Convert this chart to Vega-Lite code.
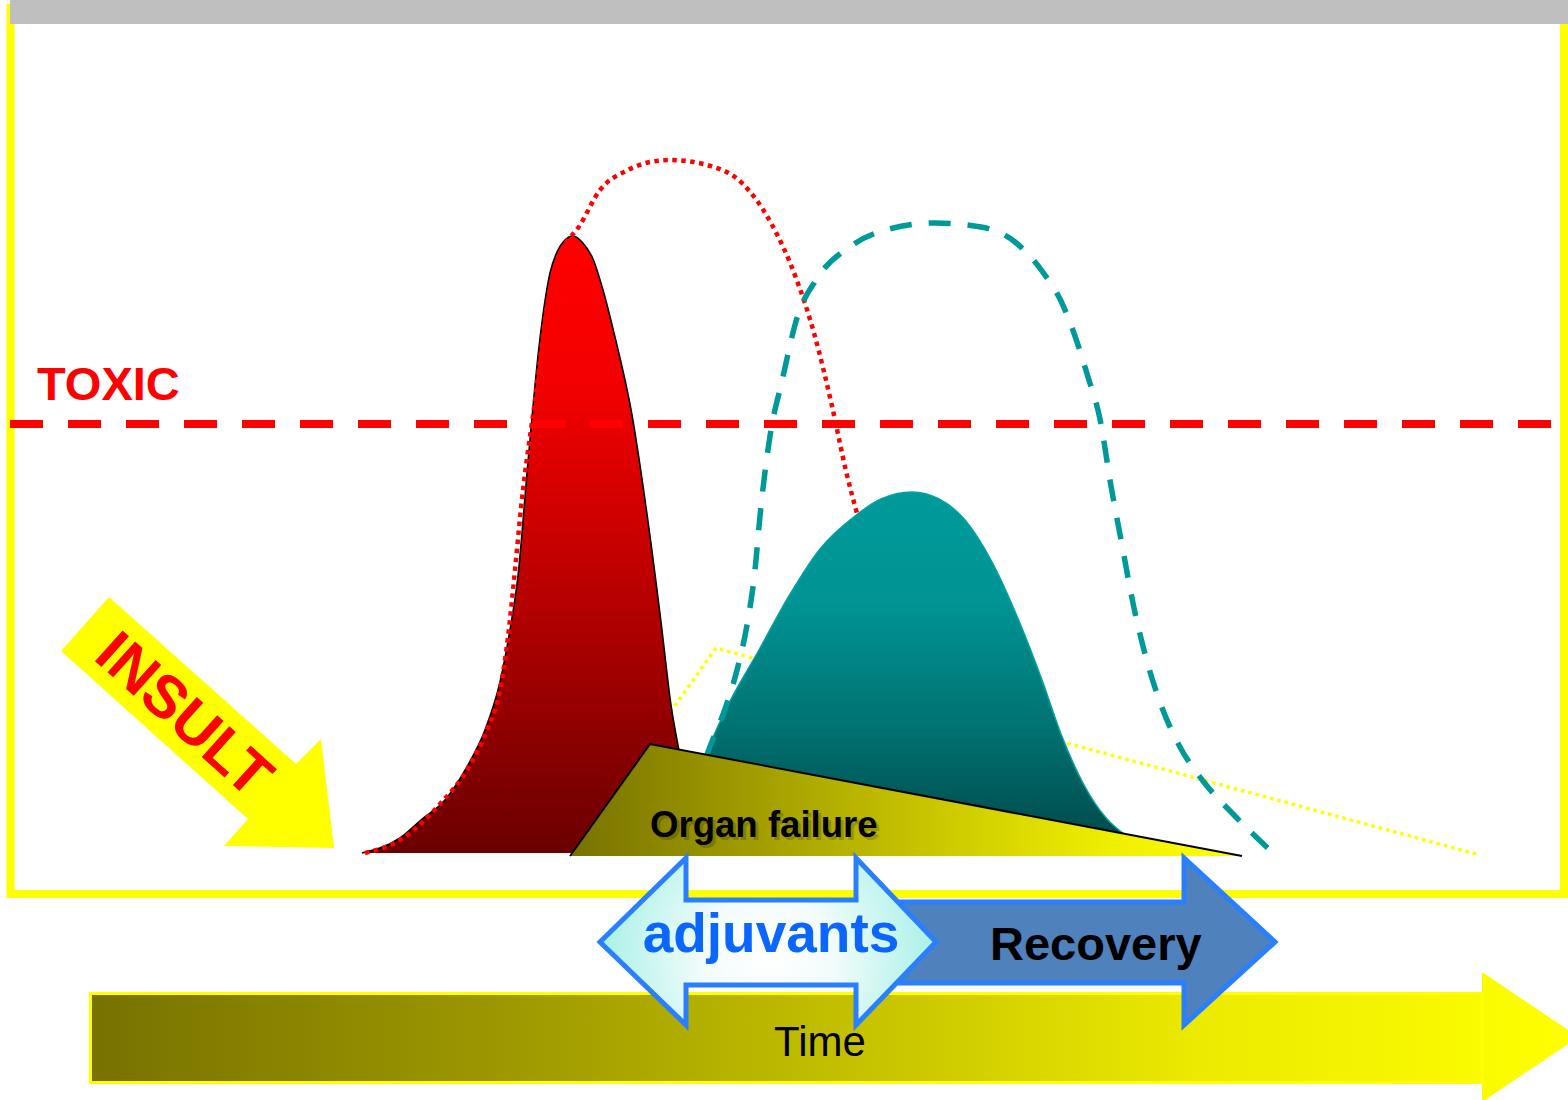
{
  "$schema": "https://vega.github.io/schema/vega-lite/v6.json",
  "width": 1568,
  "height": 1100,
  "autosize": {"type": "fit", "contains": "padding"},
  "padding": 0,
  "background": "white",
  "config": {"view": {"stroke": null}},
  "datasets": {
    "frame": [{"x": 10.5, "x2": 1564, "y": 8, "y2": 894}],
    "topBar": [{"x": 10, "x2": 1568, "y": 0, "y2": 24}],
    "threshold": [{"x": 10, "x2": 1560, "y": 424}],
    "yellowTrace": [{"x": 666, "y": 718}, {"x": 716, "y": 648}, {"x": 1480, "y": 855}],
    "insultPeak": [
      {"x": 362, "y": 853}, {"x": 400, "y": 838}, {"x": 421, "y": 820}, {"x": 445, "y": 800},
      {"x": 468, "y": 765}, {"x": 485, "y": 730}, {"x": 500, "y": 682}, {"x": 510, "y": 630},
      {"x": 518, "y": 576}, {"x": 528, "y": 462}, {"x": 539, "y": 347}, {"x": 550, "y": 273},
      {"x": 558, "y": 250}, {"x": 564, "y": 241}, {"x": 573, "y": 236}, {"x": 582, "y": 242},
      {"x": 593, "y": 259}, {"x": 603, "y": 290}, {"x": 614, "y": 333}, {"x": 632, "y": 415},
      {"x": 646, "y": 507}, {"x": 661, "y": 622}, {"x": 671, "y": 705}, {"x": 679, "y": 751},
      {"x": 696, "y": 853}
    ],
    "untreatedInsult": [
      {"x": 365, "y": 853}, {"x": 400, "y": 840}, {"x": 439, "y": 805}, {"x": 470, "y": 765},
      {"x": 487, "y": 730}, {"x": 500, "y": 690}, {"x": 508, "y": 637}, {"x": 515, "y": 570},
      {"x": 521, "y": 508}, {"x": 536, "y": 393}, {"x": 548, "y": 300}, {"x": 558, "y": 258},
      {"x": 566, "y": 243}, {"x": 578, "y": 228}, {"x": 600, "y": 190}, {"x": 628, "y": 170},
      {"x": 650, "y": 162}, {"x": 671, "y": 160}, {"x": 707, "y": 165}, {"x": 743, "y": 184},
      {"x": 771, "y": 223}, {"x": 796, "y": 278}, {"x": 814, "y": 333}, {"x": 832, "y": 406},
      {"x": 846, "y": 471}, {"x": 858, "y": 517}
    ],
    "responseHump": [
      {"x": 706, "y": 753}, {"x": 728, "y": 705}, {"x": 759, "y": 650}, {"x": 789, "y": 596},
      {"x": 820, "y": 549}, {"x": 855, "y": 516}, {"x": 881, "y": 499}, {"x": 912, "y": 492},
      {"x": 939, "y": 499}, {"x": 965, "y": 520}, {"x": 992, "y": 562}, {"x": 1019, "y": 621},
      {"x": 1042, "y": 680}, {"x": 1061, "y": 734}, {"x": 1084, "y": 785}, {"x": 1107, "y": 819},
      {"x": 1124, "y": 834}
    ],
    "untreatedResponse": [
      {"x": 706, "y": 757}, {"x": 711, "y": 744}, {"x": 725, "y": 709}, {"x": 737, "y": 670},
      {"x": 747, "y": 625}, {"x": 755, "y": 570}, {"x": 760, "y": 516}, {"x": 770, "y": 436},
      {"x": 782, "y": 381}, {"x": 797, "y": 318}, {"x": 816, "y": 280}, {"x": 851, "y": 246},
      {"x": 889, "y": 229}, {"x": 935, "y": 223}, {"x": 981, "y": 227}, {"x": 1015, "y": 242},
      {"x": 1042, "y": 271}, {"x": 1061, "y": 301}, {"x": 1076, "y": 339}, {"x": 1088, "y": 377},
      {"x": 1100, "y": 419}, {"x": 1111, "y": 486}, {"x": 1122, "y": 545}, {"x": 1134, "y": 608},
      {"x": 1145, "y": 654}, {"x": 1161, "y": 705}, {"x": 1180, "y": 747}, {"x": 1203, "y": 781},
      {"x": 1233, "y": 814}, {"x": 1272, "y": 852}
    ],
    "organFailure": [{"x": 570, "y": 856}, {"x": 650, "y": 744}, {"x": 1242, "y": 856}],
    "insultArrow": [
      {"x": 109, "y": 597}, {"x": 296, "y": 764}, {"x": 321, "y": 739}, {"x": 334, "y": 848},
      {"x": 224, "y": 846}, {"x": 248, "y": 819}, {"x": 61, "y": 651}
    ],
    "timeArrow": [
      {"x": 90, "y": 993}, {"x": 1482, "y": 993}, {"x": 1482, "y": 972}, {"x": 1568, "y": 1030},
      {"x": 1568, "y": 1044}, {"x": 1485, "y": 1100}, {"x": 1482, "y": 1100}, {"x": 1482, "y": 1082},
      {"x": 90, "y": 1082}
    ],
    "timeShaft": [{"x": 90.5, "x2": 1482, "y": 993.5, "y2": 1082.5}],
    "recoveryArrow": [
      {"x": 900, "y": 902}, {"x": 1184, "y": 902}, {"x": 1184, "y": 858}, {"x": 1275, "y": 942},
      {"x": 1184, "y": 1025}, {"x": 1184, "y": 983}, {"x": 900, "y": 983}
    ],
    "adjuvantArrow": [
      {"x": 600, "y": 942}, {"x": 686, "y": 858}, {"x": 686, "y": 900}, {"x": 856, "y": 900},
      {"x": 856, "y": 858}, {"x": 936, "y": 942}, {"x": 856, "y": 1025}, {"x": 856, "y": 985},
      {"x": 686, "y": 985}, {"x": 686, "y": 1025}
    ]
  },
  "encoding": {
    "x": {"field": "x", "type": "quantitative", "scale": {"domain": [0, 1568], "nice": false, "zero": false}, "axis": null},
    "y": {"field": "y", "type": "quantitative", "scale": {"domain": [0, 1100], "nice": false, "zero": false, "reverse": true}, "axis": null}
  },
  "layer": [
    {
      "data": {"name": "frame"},
      "mark": {"type": "rect", "fill": "transparent", "stroke": "#ffff00", "strokeWidth": 8},
      "encoding": {"x2": {"field": "x2"}, "y2": {"field": "y2"}}
    },
    {
      "data": {"name": "topBar"},
      "mark": {"type": "rect", "fill": "#bfbfbf"},
      "encoding": {"x2": {"field": "x2"}, "y2": {"field": "y2"}}
    },
    {
      "data": {"name": "yellowTrace"},
      "mark": {"type": "line", "stroke": "#ffff00", "strokeWidth": 3.5, "strokeDash": [3.5, 4], "strokeCap": "butt"},
      "encoding": {}
    },
    {
      "data": {"name": "insultPeak"},
      "mark": {
        "type": "area", "interpolate": "monotone",
        "fill": {"gradient": "linear", "x1": 0, "y1": 0, "x2": 0, "y2": 1,
          "stops": [{"offset": 0, "color": "#ff0000"}, {"offset": 0.25, "color": "#f20000"}, {"offset": 0.6, "color": "#b40000"}, {"offset": 1, "color": "#6a0000"}]}
      },
      "encoding": {"y2": {"datum": 853}}
    },
    {
      "data": {"name": "insultPeak"},
      "mark": {"type": "line", "interpolate": "monotone", "stroke": "#000000", "strokeWidth": 1.6},
      "encoding": {}
    },
    {
      "data": {"name": "threshold"},
      "mark": {"type": "rule", "stroke": "#ff0000", "strokeWidth": 8, "strokeDash": [33, 25], "strokeCap": "butt"},
      "encoding": {"x2": {"field": "x2"}}
    },
    {
      "data": {"name": "untreatedInsult"},
      "mark": {"type": "line", "interpolate": "monotone", "stroke": "#ff0000", "strokeWidth": 4.5, "strokeDash": [4.5, 4.5], "strokeCap": "butt"},
      "encoding": {}
    },
    {
      "data": {"name": "responseHump"},
      "mark": {
        "type": "area", "interpolate": "monotone",
        "fill": {"gradient": "linear", "x1": 0, "y1": 0, "x2": 0, "y2": 1,
          "stops": [{"offset": 0, "color": "#009a9a"}, {"offset": 0.3, "color": "#009494"}, {"offset": 0.65, "color": "#007272"}, {"offset": 1, "color": "#004646"}]}
      },
      "encoding": {"y2": {"datum": 853}}
    },
    {
      "data": {"name": "responseHump"},
      "mark": {"type": "line", "interpolate": "monotone", "stroke": "#00a3a3", "strokeWidth": 1.5},
      "encoding": {}
    },
    {
      "data": {"name": "untreatedResponse"},
      "mark": {"type": "line", "interpolate": "monotone", "stroke": "#009999", "strokeWidth": 5.5, "strokeDash": [22, 17], "strokeCap": "butt"},
      "encoding": {}
    },
    {
      "data": {"name": "organFailure"},
      "mark": {
        "type": "area", "interpolate": "linear",
        "fill": {"gradient": "linear", "x1": 0, "y1": 0, "x2": 1, "y2": 0,
          "stops": [{"offset": 0, "color": "#777200"}, {"offset": 0.5, "color": "#c4c000"}, {"offset": 0.8, "color": "#eeee00"}, {"offset": 1, "color": "#ffff00"}]}
      },
      "encoding": {"y2": {"datum": 856}}
    },
    {
      "data": {"name": "organFailure"},
      "mark": {"type": "line", "interpolate": "linear", "stroke": "#000000", "strokeWidth": 2},
      "encoding": {}
    },
    {
      "data": {"values": [{"x": 650, "y": 837, "label": "Organ failure"}]},
      "mark": {"type": "text", "align": "left", "baseline": "alphabetic", "font": "Liberation Sans", "fontWeight": "bold", "fontSize": 36.6, "fill": "#000000", "opacity": 0.18, "dx": 3, "dy": 3},
      "encoding": {"text": {"field": "label"}}
    },
    {
      "data": {"values": [{"x": 650, "y": 837, "label": "Organ failure"}]},
      "mark": {"type": "text", "align": "left", "baseline": "alphabetic", "font": "Liberation Sans", "fontWeight": "bold", "fontSize": 36.6, "fill": "#000000"},
      "encoding": {"text": {"field": "label"}}
    },
    {
      "data": {"values": [{"x": 37, "y": 400, "label": "TOXIC"}]},
      "mark": {"type": "text", "align": "left", "baseline": "alphabetic", "font": "Liberation Sans", "fontWeight": "bold", "fontSize": 47, "fill": "#ff0000"},
      "encoding": {"text": {"field": "label"}}
    },
    {
      "data": {"name": "insultArrow"},
      "mark": {"type": "line", "interpolate": "linear-closed", "fill": "#ffff00", "stroke": null},
      "encoding": {"order": {"value": null}}
    },
    {
      "data": {"values": [{"x": 183, "y": 716, "label": "INSULT"}]},
      "mark": {"type": "text", "align": "center", "baseline": "middle", "angle": 42, "font": "Liberation Sans", "fontWeight": "bold", "fontSize": 60, "fill": "#ff0000"},
      "encoding": {"text": {"field": "label"}}
    },
    {
      "data": {"name": "timeArrow"},
      "mark": {
        "type": "line", "interpolate": "linear-closed", "stroke": null,
        "fill": {"gradient": "linear", "x1": 0, "y1": 0, "x2": 1, "y2": 0,
          "stops": [{"offset": 0, "color": "#777200"}, {"offset": 0.3, "color": "#a09b00"}, {"offset": 0.75, "color": "#ecea00"}, {"offset": 1, "color": "#ffff00"}]}
      },
      "encoding": {"order": {"value": null}}
    },
    {
      "data": {"name": "timeShaft"},
      "mark": {"type": "rect", "fill": "transparent", "stroke": "#ffff00", "strokeWidth": 3},
      "encoding": {"x2": {"field": "x2"}, "y2": {"field": "y2"}}
    },
    {
      "data": {"values": [{"x": 820, "y": 1056, "label": "Time"}]},
      "mark": {"type": "text", "align": "center", "baseline": "alphabetic", "font": "Liberation Sans", "fontSize": 42, "fill": "#000000"},
      "encoding": {"text": {"field": "label"}}
    },
    {
      "data": {"name": "recoveryArrow"},
      "mark": {"type": "line", "interpolate": "linear-closed", "fill": "#4f81bd", "stroke": "#2a7fff", "strokeWidth": 5, "strokeJoin": "miter"},
      "encoding": {"order": {"value": null}}
    },
    {
      "data": {"name": "adjuvantArrow"},
      "mark": {
        "type": "line", "interpolate": "linear-closed", "stroke": "#2a7fff", "strokeWidth": 5, "strokeJoin": "miter",
        "fill": {"gradient": "radial", "x1": 0.5, "y1": 0.55, "r1": 0, "x2": 0.5, "y2": 0.55, "r2": 0.55,
          "stops": [{"offset": 0, "color": "#ffffff"}, {"offset": 0.35, "color": "#f2fcfb"}, {"offset": 1, "color": "#9eefe4"}]}
      },
      "encoding": {"order": {"value": null}}
    },
    {
      "data": {"values": [{"x": 771, "y": 952, "label": "adjuvants"}]},
      "mark": {"type": "text", "align": "center", "baseline": "alphabetic", "font": "Liberation Sans", "fontWeight": "bold", "fontSize": 55, "fill": "#0a66ff"},
      "encoding": {"text": {"field": "label"}}
    },
    {
      "data": {"values": [{"x": 990, "y": 960, "label": "Recovery"}]},
      "mark": {"type": "text", "align": "left", "baseline": "alphabetic", "font": "Liberation Sans", "fontWeight": "bold", "fontSize": 47, "fill": "#000000"},
      "encoding": {"text": {"field": "label"}}
    }
  ]
}
